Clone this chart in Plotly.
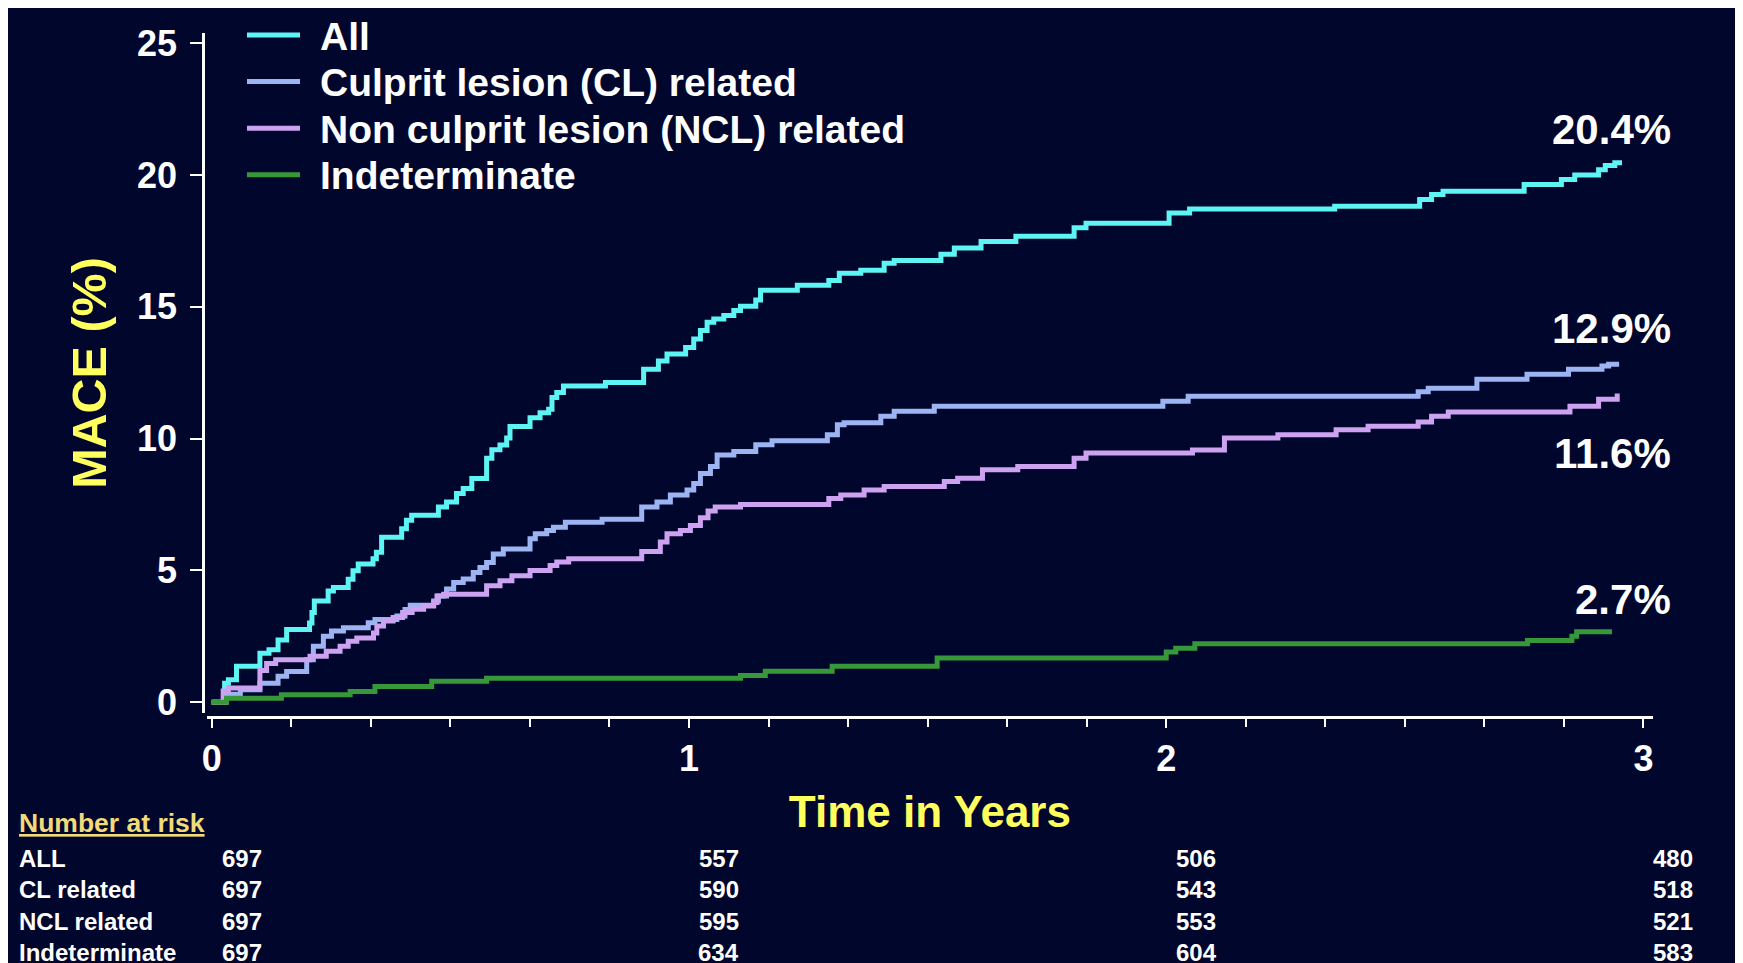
import plotly.graph_objects as go

# ---------------- data ----------------
series_names = ["All", "Culprit lesion (CL) related",
                "Non culprit lesion (NCL) related", "Indeterminate"]
final_labels = ["20.4%", "12.9%", "11.6%", "2.7%"]

all_t = [0, 0.027, 0.035, 0.052, 0.101, 0.12, 0.139, 0.157, 0.205, 0.21, 0.215,
         0.244, 0.255, 0.286, 0.296, 0.307, 0.338, 0.345, 0.356, 0.398, 0.408,
         0.419, 0.475, 0.492, 0.513, 0.527, 0.545, 0.576, 0.587, 0.604, 0.618,
         0.625, 0.667, 0.688, 0.706, 0.713, 0.723, 0.737, 0.825, 0.905, 0.936,
         0.954, 0.993, 1.01, 1.024, 1.038, 1.052, 1.073, 1.094, 1.108, 1.14,
         1.15, 1.227, 1.293, 1.315, 1.36, 1.409, 1.43, 1.528, 1.556, 1.612,
         1.685, 1.807, 1.832, 2.006, 2.049, 2.353, 2.531, 2.556, 2.58, 2.75,
         2.828, 2.856, 2.906, 2.92, 2.94, 2.955]
all_v = [0, 0.72, 0.85, 1.36, 1.86, 1.99, 2.36, 2.76, 3.0, 3.4, 3.84,
         4.22, 4.35, 4.66, 4.99, 5.24, 5.44, 5.69, 6.26, 6.58, 6.9,
         7.09, 7.41, 7.6, 7.92, 8.11, 8.49, 9.26, 9.58, 9.76, 10.02,
         10.46, 10.79, 10.98, 11.11, 11.56, 11.75, 12.0, 12.13, 12.63, 12.95,
         13.21, 13.46, 13.78, 14.1, 14.42, 14.54, 14.67, 14.86, 15.02, 15.26,
         15.63, 15.82, 16.0, 16.27, 16.39, 16.65, 16.76, 17.0, 17.23, 17.48,
         17.68, 18.0, 18.17, 18.56, 18.71, 18.82, 19.07, 19.26, 19.39, 19.64,
         19.83, 20.0, 20.2, 20.36, 20.47, 20.47]

cl_t = [0, 0.03, 0.06, 0.101, 0.139, 0.157, 0.199, 0.213, 0.234, 0.251, 0.276,
        0.328, 0.342, 0.388, 0.405, 0.416, 0.465, 0.475, 0.492, 0.507, 0.527,
        0.548, 0.562, 0.576, 0.59, 0.611, 0.667, 0.678, 0.702, 0.716, 0.741,
        0.818, 0.901, 0.933, 0.961, 0.996, 1.01, 1.024, 1.045, 1.059, 1.094,
        1.14, 1.174, 1.29, 1.311, 1.325, 1.402, 1.43, 1.514, 1.993, 2.046,
        2.528, 2.549, 2.651, 2.756, 2.843, 2.913, 2.927, 2.949]
cl_v = [0, 0.3, 0.47, 0.72, 0.98, 1.16, 1.61, 2.12, 2.5, 2.7, 2.82,
        3.01, 3.14, 3.27, 3.52, 3.68, 3.84, 4.03, 4.29, 4.54, 4.67,
        4.92, 5.11, 5.3, 5.62, 5.81, 6.2, 6.39, 6.51, 6.64, 6.83,
        6.94, 7.41, 7.6, 7.86, 8.05, 8.3, 8.68, 8.94, 9.38, 9.51,
        9.77, 9.92, 10.15, 10.53, 10.6, 10.85, 11.04, 11.23, 11.42, 11.61,
        11.78, 11.91, 12.25, 12.44, 12.63, 12.76, 12.82, 12.82]

ncl_t = [0, 0.024, 0.035, 0.101, 0.115, 0.134, 0.206, 0.24, 0.269, 0.286, 0.304,
         0.339, 0.346, 0.36, 0.38, 0.4, 0.42, 0.444, 0.465, 0.472, 0.486,
         0.576, 0.604, 0.629, 0.667, 0.709, 0.723, 0.748, 0.901, 0.94, 0.954,
         0.982, 1.003, 1.024, 1.04, 1.055, 1.108, 1.293, 1.318, 1.367, 1.409,
         1.535, 1.563, 1.615, 1.689, 1.807, 1.832, 2.055, 2.122, 2.234, 2.356,
         2.423, 2.528, 2.556, 2.591, 2.846, 2.906, 2.945]
ncl_v = [0, 0.42, 0.54, 1.2, 1.47, 1.61, 1.74, 1.93, 2.12, 2.31, 2.44,
         2.63, 2.89, 3.08, 3.21, 3.4, 3.53, 3.65, 3.78, 4.03, 4.1,
         4.42, 4.61, 4.8, 5.0, 5.19, 5.32, 5.44, 5.72, 6.08, 6.39,
         6.51, 6.7, 7.0, 7.25, 7.41, 7.5, 7.73, 7.86, 8.05, 8.18,
         8.37, 8.5, 8.82, 8.94, 9.26, 9.45, 9.57, 10.02, 10.15, 10.34,
         10.47, 10.63, 10.85, 11.01, 11.23, 11.49, 11.71]

ind_t = [0, 0.031, 0.146, 0.29, 0.342, 0.461, 0.576, 1.108, 1.16, 1.30, 1.52,
         2.0, 2.02, 2.06, 2.757, 2.85, 2.86, 2.934]
ind_v = [0, 0.15, 0.28, 0.41, 0.6, 0.79, 0.91, 1.01, 1.17, 1.36, 1.68,
         1.9, 2.05, 2.22, 2.34, 2.5, 2.67, 2.67]

x_ticks = [0, 1, 2, 3]
y_ticks = [0, 5, 10, 15, 20, 25]

risk_header = "Number at risk"
risk_rows = ["ALL", "CL related", "NCL related", "Indeterminate"]
risk_times = [0, 1, 2, 3]
risk_all = [697, 557, 506, 480]
risk_cl = [697, 590, 543, 518]
risk_ncl = [697, 595, 553, 521]
risk_ind = [697, 634, 604, 583]

# ---------------- styles ----------------
W, H = 1743, 963
OFF = 8  # page body margin offset
ML = 203 - OFF
MT = 33 - OFF
MR = W - (1653 - OFF)
MB = H - (717 - OFF)
PW, PH = W - ML - MR, H - MT - MB
BG = "#01062d"
YEL = "#ffff5e"
GOLD = "#f2d97a"
FONT = "Liberation Sans, Arial, sans-serif"
colors = ["#5ff4f4", "#9db4f2", "#cda2f0", "#37983a"]
label_y = [21.71, 14.16, 9.44, 3.88]


def px(X):
    """reference-image pixel x -> paper coordinate"""
    return (X - OFF - ML) / PW


def py(Y):
    """reference-image pixel y -> paper coordinate"""
    return (H - MB - (Y - OFF)) / PH


fig = go.Figure()
series = [(all_t, all_v), (cl_t, cl_v), (ncl_t, ncl_v), (ind_t, ind_v)]
for (t, v), name, c in zip(series, series_names, colors):
    fig.add_trace(go.Scatter(x=t, y=v, mode="lines", name=name,
                             line=dict(color=c, width=5, shape="hv"),
                             showlegend=False))

shapes = []
annotations = []

# legend
for i, (name, c) in enumerate(zip(series_names, colors)):
    yc = 35 + 46.6 * i
    shapes.append(dict(type="line", xref="paper", yref="paper",
                       x0=px(247), x1=px(300), y0=py(yc), y1=py(yc),
                       line=dict(color=c, width=5)))
    annotations.append(dict(text=name, xref="paper", yref="paper",
                            x=px(318), y=py(yc + 1), xanchor="left", yanchor="middle",
                            showarrow=False,
                            font=dict(family=FONT, size=39, color="white", weight="bold")))

# end labels
for lab, yy in zip(final_labels, label_y):
    annotations.append(dict(text=lab, xref="paper", yref="y", x=px(1673), y=yy,
                            xanchor="right", yanchor="middle", showarrow=False,
                            font=dict(family=FONT, size=42, color="white", weight="bold")))

# number at risk table
annotations.append(dict(text="<u>" + risk_header + "</u>", xref="paper", yref="paper",
                        x=px(17), y=py(823), xanchor="left", yanchor="middle",
                        showarrow=False,
                        font=dict(family=FONT, size=26.5, color=GOLD, weight="bold")))
row_Y = [858, 889.5, 921, 952.5]
for rname, vals, Y in zip(risk_rows, [risk_all, risk_cl, risk_ncl, risk_ind], row_Y):
    annotations.append(dict(text=rname, xref="paper", yref="paper",
                            x=px(17), y=py(Y), xanchor="left", yanchor="middle",
                            showarrow=False,
                            font=dict(family=FONT, size=24, color="white", weight="bold")))
    for t, n in zip(risk_times, vals):
        annotations.append(dict(text=str(n), xref="x", yref="paper",
                                x=t, xshift=30, y=py(Y), xanchor="center",
                                yanchor="middle", showarrow=False,
                                font=dict(family=FONT, size=24, color="white",
                                          weight="bold")))

fig.update_layout(
    width=W, height=H,
    margin=dict(l=ML, r=MR, t=MT, b=MB, autoexpand=False),
    paper_bgcolor=BG, plot_bgcolor=BG,
    font=dict(family=FONT, color="white"),
    showlegend=False,
    shapes=shapes, annotations=annotations,
    xaxis=dict(domain=[px(206.8), 1], range=[-0.0103, 3.02], anchor="free", position=0,
               showline=True, linecolor="white", linewidth=2.5,
               showgrid=False, zeroline=False,
               tickvals=x_ticks, ticks="outside", ticklen=9, tickwidth=2,
               tickcolor="white",
               minor=dict(dtick=1 / 6, tick0=0, ticks="outside", ticklen=8,
                          tickwidth=2, tickcolor="white", showgrid=False),
               tickfont=dict(family=FONT, size=36, color="white", weight="bold"),
               title=dict(text="Time in Years", standoff=18,
                          font=dict(family=FONT, size=44, color=YEL, weight="bold"))),
    yaxis=dict(domain=[py(713), 1], range=[-0.41, 25.39], anchor="free", position=0,
               showline=True, linecolor="white", linewidth=2.5,
               showgrid=False, zeroline=False,
               tickvals=y_ticks, ticks="outside", ticklen=12, tickwidth=2,
               tickcolor="white", ticklabelstandoff=6,
               tickfont=dict(family=FONT, size=36, color="white", weight="bold"),
               title=dict(text="MACE (%)", standoff=14,
                          font=dict(family=FONT, size=48.5, color=YEL, weight="bold"))),
)

fig.write_html("out.html")
